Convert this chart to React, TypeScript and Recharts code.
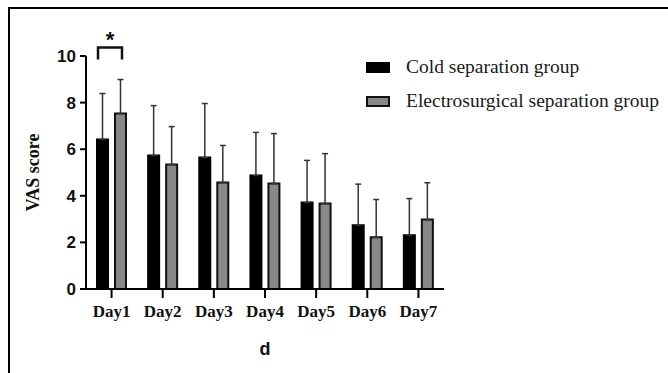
import { BarChart, Bar, XAxis, YAxis, ErrorBar, Legend } from "recharts";

const days = ["Day1", "Day2", "Day3", "Day4", "Day5", "Day6", "Day7"];
const coldMean = [6.42, 5.73, 5.64, 4.87, 3.71, 2.74, 2.31];
const coldSd = [1.97, 2.14, 2.32, 1.85, 1.81, 1.76, 1.57];
const elecMean = [7.53, 5.34, 4.57, 4.53, 3.67, 2.22, 2.98];
const elecSd = [1.46, 1.63, 1.59, 2.14, 2.14, 1.62, 1.58];
const yTicks = [0, 2, 4, 6, 8, 10];

const data = days.map((d, i) => ({
  day: d,
  cold: coldMean[i],
  coldErr: [0, coldSd[i]],
  elec: elecMean[i],
  elecErr: [0, elecSd[i]],
}));

const SERIF = "'Liberation Serif', 'Times New Roman', serif";
const SANS = "'Liberation Sans', Arial, sans-serif";
const GAP = 7;

// bracket + star above the Day1 pair
const sigLabel = (props: any) => {
  const { x, y, width, height, value, index } = props;
  if (index !== 0) return null;
  const px = height / value;
  const base = y + height;
  const top = base - 10.36 * px;
  const legs = base - 9.85 * px;
  const x1 = x + 1;
  const x2 = x + width * 2 + GAP - 4;
  return (
    <g>
      <path
        d={`M${x1},${legs} L${x1},${top} L${x2},${top} L${x2},${legs}`}
        fill="none"
        stroke="#111"
        strokeWidth={2.5}
      />
      <text
        x={(x1 + x2) / 2}
        y={top - 1}
        textAnchor="middle"
        fontFamily={SANS}
        fontWeight="bold"
        fontSize={22}
        fill="#111"
      >
        *
      </text>
    </g>
  );
};

const legendContent = () => (
  <div style={{ fontFamily: SERIF, fontSize: 19.5, color: "#1a1a1a" }}>
    {[
      { name: "Cold separation group", fill: "#000", stroke: "#000" },
      { name: "Electrosurgical separation group", fill: "#888", stroke: "#111" },
    ].map((e) => (
      <div key={e.name} style={{ display: "flex", alignItems: "center", height: 34 }}>
        <div
          style={{
            width: 24,
            height: 11,
            boxSizing: "border-box",
            background: e.fill,
            border: `2px solid ${e.stroke}`,
            marginRight: 16,
          }}
        />
        <span style={{ whiteSpace: "nowrap" }}>{e.name}</span>
      </div>
    ))}
  </div>
);

export default function App() {
  return (
    <div style={{ position: "relative", width: 668, height: 373, overflow: "hidden", background: "#fff" }}>
      <style>{"body{margin:0;overflow:hidden;}"}</style>
      <div
        style={{
          position: "absolute",
          left: 8,
          top: 7,
          right: 0,
          bottom: 0,
          borderTop: "2px solid #000",
          borderLeft: "2px solid #000",
        }}
      />
      <div style={{ position: "absolute", left: 0, top: 0 }}>
        <BarChart
          width={668}
          height={373}
          data={data}
          margin={{ top: 56, right: 224, bottom: 0, left: 0 }}
          barSize={11}
          barGap={GAP}
        >
          <XAxis
            dataKey="day"
            height={84}
            axisLine={{ stroke: "#000", strokeWidth: 2 }}
            tickLine={{ stroke: "#000", strokeWidth: 2 }}
            tickSize={9}
            tickMargin={7}
            tick={{ fill: "#111", fontFamily: SERIF, fontWeight: "bold", fontSize: 17 }}
            label={{
              value: "d",
              position: "center",
              dy: 18,
              style: { fill: "#111", fontFamily: SANS, fontWeight: "bold", fontSize: 18 },
            }}
          />
          <YAxis
            width={86}
            domain={[0, 10]}
            ticks={yTicks}
            allowDataOverflow
            axisLine={{ stroke: "#000", strokeWidth: 2 }}
            tickLine={{ stroke: "#000", strokeWidth: 2 }}
            tickSize={6}
            tickMargin={4}
            tick={{ fill: "#111", fontFamily: SANS, fontWeight: "bold", fontSize: 17 }}
            label={{
              value: "VAS score",
              angle: -90,
              position: "center",
              dx: -10,
              style: { fill: "#111", fontFamily: SERIF, fontWeight: "bold", fontSize: 18 },
            }}
          />
          <Legend
            layout="vertical"
            align="center"
            verticalAlign="middle"
            content={legendContent}
            wrapperStyle={{ left: 366, top: 50, width: 300 }}
          />
          <Bar
            dataKey="cold"
            name="Cold separation group"
            fill="#000"
            stroke="#000"
            strokeWidth={2}
            isAnimationActive={false}
            label={sigLabel}
          >
            <ErrorBar dataKey="coldErr" width={3} stroke="#333" strokeWidth={1.5} isAnimationActive={false} />
          </Bar>
          <Bar
            dataKey="elec"
            name="Electrosurgical separation group"
            fill="#888"
            stroke="#111"
            strokeWidth={2}
            isAnimationActive={false}
          >
            <ErrorBar dataKey="elecErr" width={3} stroke="#333" strokeWidth={1.5} isAnimationActive={false} />
          </Bar>
        </BarChart>
      </div>
    </div>
  );
}
